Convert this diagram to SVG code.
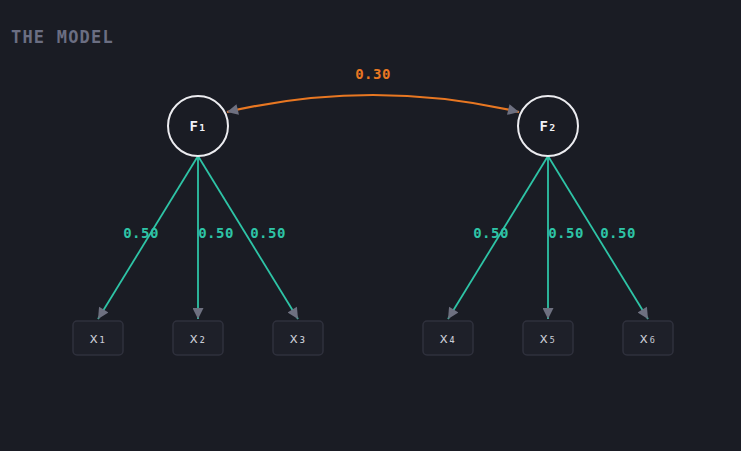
<svg xmlns="http://www.w3.org/2000/svg" width="741" height="451" viewBox="0 0 741 451">
<style>
.title{font-family:"DejaVu Sans Mono",monospace;font-size:17px;font-weight:bold;fill:#6b6e82;letter-spacing:1.2px}
.lat circle{fill:#1a1c24;stroke:#ececf0;stroke-width:2}
.lat text{font-family:"DejaVu Sans Mono",monospace;font-size:14px;font-weight:bold;fill:#f2f2f6;text-anchor:middle}
.obs rect{fill:#1e2029;stroke:#2f313d;stroke-width:1.5}
.obs text{font-family:"DejaVu Sans Mono",monospace;font-size:14px;fill:#c8cad4;text-anchor:middle}
.load{stroke:#2ec4a6;stroke-width:1.8;fill:none}
.cov{stroke:#e87722;stroke-width:2.2;fill:none}
.lbl{font-family:"DejaVu Sans Mono",monospace;font-size:14px;font-weight:bold;text-anchor:middle;letter-spacing:0.5px}
</style>
<defs>
<marker id="ah" viewBox="0 0 10 10" refX="10" refY="5" markerWidth="15" markerHeight="11" markerUnits="userSpaceOnUse" orient="auto-start-reverse">
<path d="M0,0 L10,5 L0,10 z" fill="#6e7080"/>
</marker>
</defs>
<rect width="741" height="451" fill="#1a1c24"/>
<text class="title" x="11" y="43">THE MODEL</text>
<g id="connectors">
<path class="cov" d="M227,112 Q373,78 519,112" marker-start="url(#ah)" marker-end="url(#ah)"/>
<text class="lbl" x="373" y="79" fill="#e87722">0.30</text>
<g fill="#2ec4a6">
<text class="lbl" x="141" y="238">0.50</text>
<text class="lbl" x="216" y="238">0.50</text>
<text class="lbl" x="268" y="238">0.50</text>
<text class="lbl" x="491" y="238">0.50</text>
<text class="lbl" x="566" y="238">0.50</text>
<text class="lbl" x="618" y="238">0.50</text>
</g>
<line class="load" x1="198" y1="156" x2="98" y2="319" marker-end="url(#ah)"/>
<line class="load" x1="198" y1="156" x2="198" y2="319" marker-end="url(#ah)"/>
<line class="load" x1="198" y1="156" x2="298" y2="319" marker-end="url(#ah)"/>
<line class="load" x1="548" y1="156" x2="448" y2="319" marker-end="url(#ah)"/>
<line class="load" x1="548" y1="156" x2="548" y2="319" marker-end="url(#ah)"/>
<line class="load" x1="548" y1="156" x2="648" y2="319" marker-end="url(#ah)"/>
</g>
<g id="F1" class="lat"><circle cx="198" cy="126" r="30"/><text x="198" y="131">F₁</text></g>
<g id="F2" class="lat"><circle cx="548" cy="126" r="30"/><text x="548" y="131">F₂</text></g>
<g id="x1" class="obs"><rect x="73" y="321" width="50" height="34" rx="4"/><text x="98" y="343">x₁</text></g>
<g id="x2" class="obs"><rect x="173" y="321" width="50" height="34" rx="4"/><text x="198" y="343">x₂</text></g>
<g id="x3" class="obs"><rect x="273" y="321" width="50" height="34" rx="4"/><text x="298" y="343">x₃</text></g>
<g id="x4" class="obs"><rect x="423" y="321" width="50" height="34" rx="4"/><text x="448" y="343">x₄</text></g>
<g id="x5" class="obs"><rect x="523" y="321" width="50" height="34" rx="4"/><text x="548" y="343">x₅</text></g>
<g id="x6" class="obs"><rect x="623" y="321" width="50" height="34" rx="4"/><text x="648" y="343">x₆</text></g>
</svg>
